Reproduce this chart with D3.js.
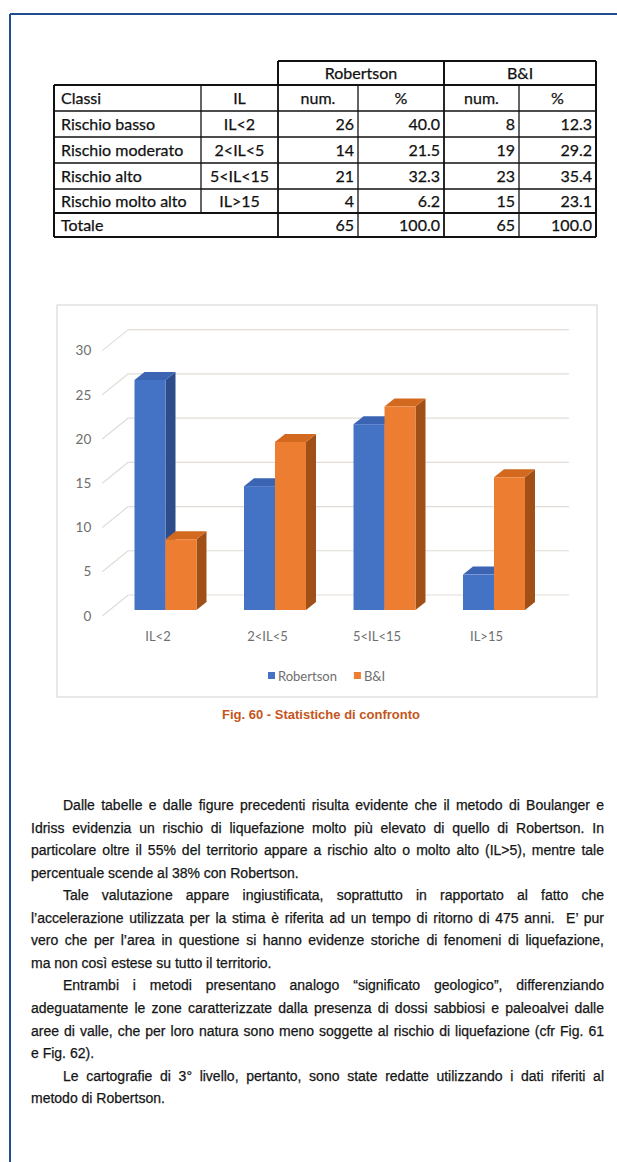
<!DOCTYPE html>
<html>
<head>
<meta charset="utf-8">
<script src="https://cdn.jsdelivr.net/npm/d3@7"></script>
<style>
  html, body { margin: 0; padding: 0; background: #fff; }
  svg { display: block; }
</style>
</head>
<body>
<svg id="page" width="617" height="1162"></svg>
<script>
// ---- data ----
const classes = ["Rischio basso", "Rischio moderato", "Rischio alto", "Rischio molto alto"];
const categories = ["IL<2", "2<IL<5", "5<IL<15", "IL>15"];
const series = ["Robertson", "B&I"];
const robertsonNum = [26, 14, 21, 4];
const robertsonPct = [40.0, 21.5, 32.3, 6.2];
const biNum = [8, 19, 23, 15];
const biPct = [12.3, 29.2, 35.4, 23.1];
const totalNum = [65, 65];
const totalPct = [100.0, 100.0];
const yTicks = [0, 5, 10, 15, 20, 25, 30];
const caption = "Fig. 60 - Statistiche di confronto";

const paragraphs = [
  ["Dalle tabelle e dalle figure precedenti risulta evidente che il metodo di Boulanger e",
   "Idriss evidenzia un rischio di liquefazione molto più elevato di quello di Robertson. In",
   "particolare oltre il 55% del territorio appare a rischio alto o molto alto (IL>5), mentre tale",
   "percentuale scende al 38% con Robertson."],
  ["Tale valutazione appare ingiustificata, soprattutto in rapportato al fatto che",
   "l’accelerazione utilizzata per la stima è riferita ad un tempo di ritorno di 475 anni.  E’ pur",
   "vero che per l’area in questione si hanno evidenze storiche di fenomeni di liquefazione,",
   "ma non così estese su tutto il territorio."],
  ["Entrambi i metodi presentano analogo “significato geologico”, differenziando",
   "adeguatamente le zone caratterizzate dalla presenza di dossi sabbiosi e paleoalvei dalle",
   "aree di valle, che per loro natura sono meno soggette al rischio di liquefazione (cfr Fig. 61",
   "e Fig. 62)."],
  ["Le cartografie di 3° livello, pertanto, sono state redatte utilizzando i dati riferiti al",
   "metodo di Robertson."]
];

const svg = d3.select("#page");

// ---- page frame ----
svg.append("line").attr("x1", 10).attr("y1", 14).attr("x2", 617).attr("y2", 14)
  .attr("stroke", "#1f4e8c").attr("stroke-width", 2);
svg.append("line").attr("x1", 10).attr("y1", 14).attr("x2", 10).attr("y2", 1162)
  .attr("stroke", "#1f4e8c").attr("stroke-width", 2);

// ---- table ----
const tableFont = "Lato, 'Open Sans', sans-serif";
const colX = [54, 201, 278, 358, 444, 519, 596];
const rowY = [61, 85, 111, 137, 163, 189, 213, 237];
const tbl = svg.append("g").attr("class", "table");
const ink = "#111";

function hline(x1, x2, y, w) {
  tbl.append("line").attr("x1", x1).attr("x2", x2).attr("y1", y).attr("y2", y)
    .attr("stroke", ink).attr("stroke-width", w);
}
function vline(x, y1, y2, w) {
  tbl.append("line").attr("x1", x).attr("x2", x).attr("y1", y1).attr("y2", y2)
    .attr("stroke", ink).attr("stroke-width", w);
}
// header band over the two methods
hline(colX[2], colX[6], rowY[0], 2);
vline(colX[2], rowY[0], rowY[1], 2);
vline(colX[4], rowY[0], rowY[1], 2);
vline(colX[6], rowY[0], rowY[1], 2);
// body grid
hline(colX[0], colX[6], rowY[1], 2);
for (let i = 2; i < rowY.length - 1; i++) hline(colX[0], colX[6], rowY[i], i === 6 ? 2.2 : 1.3);
hline(colX[0], colX[6], rowY[7], 2);
vline(colX[0], rowY[1], rowY[7], 2);
vline(colX[6], rowY[1], rowY[7], 2);
vline(colX[1], rowY[1], rowY[6], 1.3);
[2, 3, 4, 5].forEach(c => vline(colX[c], rowY[1], rowY[7], c === 2 || c === 4 ? 1.8 : 1.3));

function cellText(txt, x, rowTop, rowBot, anchor) {
  tbl.append("text").attr("x", x).attr("y", (rowTop + rowBot) / 2)
    .attr("dy", "0.36em").attr("text-anchor", anchor)
    .attr("font-family", tableFont).attr("font-size", 16).attr("fill", ink)
    .attr("stroke", ink).attr("stroke-width", 0.25)
    .text(txt);
}
const mid = (a, b) => (a + b) / 2;
cellText(series[0], mid(colX[2], colX[4]), rowY[0], rowY[1], "middle");
cellText(series[1], mid(colX[4], colX[6]), rowY[0], rowY[1], "middle");
cellText("Classi", colX[0] + 7, rowY[1], rowY[2], "start");
cellText("IL", mid(colX[1], colX[2]), rowY[1], rowY[2], "middle");
cellText("num.", mid(colX[2], colX[3]), rowY[1], rowY[2], "middle");
cellText("%", mid(colX[3], colX[4]), rowY[1], rowY[2], "middle");
cellText("num.", mid(colX[4], colX[5]), rowY[1], rowY[2], "middle");
cellText("%", mid(colX[5], colX[6]), rowY[1], rowY[2], "middle");
classes.forEach((c, i) => {
  const t = rowY[i + 2], b = rowY[i + 3];
  cellText(c, colX[0] + 7, t, b, "start");
  cellText(categories[i], mid(colX[1], colX[2]), t, b, "middle");
  cellText(robertsonNum[i], colX[3] - 4, t, b, "end");
  cellText(robertsonPct[i].toFixed(1), colX[4] - 4, t, b, "end");
  cellText(biNum[i], colX[5] - 4, t, b, "end");
  cellText(biPct[i].toFixed(1), colX[6] - 4, t, b, "end");
});
cellText("Totale", colX[0] + 7, rowY[6], rowY[7], "start");
cellText(totalNum[0], colX[3] - 4, rowY[6], rowY[7], "end");
cellText(totalPct[0].toFixed(1), colX[4] - 4, rowY[6], rowY[7], "end");
cellText(totalNum[1], colX[5] - 4, rowY[6], rowY[7], "end");
cellText(totalPct[1].toFixed(1), colX[6] - 4, rowY[6], rowY[7], "end");

// ---- 3D clustered column chart ----
const chart = svg.append("g").attr("class", "chart");
const chartFont = "Lato, 'Open Sans', sans-serif";
const box = { x: 57, y: 305, w: 540, h: 392 };
chart.append("rect").attr("x", box.x).attr("y", box.y).attr("width", box.w).attr("height", box.h)
  .attr("fill", "#fff").attr("stroke", "#d9d9d9").attr("stroke-width", 1.2);

// depth geometry: floor front edge -> bar front plane -> back wall
const floorFrontY = 616;
const depth = { dx: 26, dy: -21 };         // full floor depth
const barOffset = { dx: 7.5, dy: -6 };     // floor front to bar front face
const barDepth = { dx: 10, dy: -8 };       // bar thickness
const barBaseY = floorFrontY + barOffset.dy;

const y = d3.scaleLinear().domain([0, 30]).range([0, 265.4]);
const x0 = d3.scaleBand().domain(categories).range([110.75, 548.75])
  .paddingInner(0.434).paddingOuter(0.217);
const x1 = d3.scaleBand().domain(series).range([0, x0.bandwidth()]);

// walls: diagonal side lines + back gridlines
const floorLeftX = x0.range()[0] - barOffset.dx - 1;
const backLeftX = floorLeftX + depth.dx;
const backRightX = 569;
const gridColor = "#e2dcd7";
yTicks.forEach(v => {
  const yf = floorFrontY - y(v);
  const yb = yf + depth.dy;
  chart.append("line").attr("x1", floorLeftX).attr("y1", yf).attr("x2", backLeftX).attr("y2", yb)
    .attr("stroke", gridColor).attr("stroke-width", 1.2);
  chart.append("line").attr("x1", backLeftX).attr("y1", yb).attr("x2", backRightX).attr("y2", yb)
    .attr("stroke", gridColor).attr("stroke-width", 1.2);
  chart.append("text").attr("x", floorLeftX - 11).attr("y", yf).attr("dy", "0.35em")
    .attr("text-anchor", "end").attr("font-family", chartFont).attr("font-size", 13.5)
    .attr("fill", "#6e6e6e").text(v);
});

const palette = {
  "Robertson": { front: "#4472c4", top: "#3b65b3", side: "#2c4c8b" },
  "B&I": { front: "#ed7d31", top: "#d2691f", side: "#a04f17" }
};
const values = { "Robertson": robertsonNum, "B&I": biNum };

categories.forEach((cat, ci) => {
  series.forEach(s => {
    const v = values[s][ci];
    const left = x0(cat) + x1(s);
    const w = x1.bandwidth();
    const h = y(v);
    const top = barBaseY - h;
    const c = palette[s];
    const g = chart.append("g");
    g.append("polygon").attr("fill", c.side).attr("points", [
      [left + w, top], [left + w + barDepth.dx, top + barDepth.dy],
      [left + w + barDepth.dx, barBaseY + barDepth.dy], [left + w, barBaseY]
    ].map(p => p.join(",")).join(" "));
    g.append("polygon").attr("fill", c.top).attr("points", [
      [left, top], [left + barDepth.dx, top + barDepth.dy],
      [left + w + barDepth.dx, top + barDepth.dy], [left + w, top]
    ].map(p => p.join(",")).join(" "));
    g.append("rect").attr("x", left).attr("y", top).attr("width", w).attr("height", h)
      .attr("fill", c.front);
  });
  chart.append("text").attr("x", x0(cat) + x0.bandwidth() / 2 - barOffset.dx)
    .attr("y", 636).attr("dy", "0.35em").attr("text-anchor", "middle")
    .attr("font-family", chartFont).attr("font-size", 13).attr("fill", "#6e6e6e").text(cat);
});

// legend
const legend = chart.append("g");
let lx = 268;
series.forEach(s => {
  legend.append("rect").attr("x", lx).attr("y", 672).attr("width", 7).attr("height", 7)
    .attr("fill", palette[s].front);
  const t = legend.append("text").attr("x", lx + 10).attr("y", 676).attr("dy", "0.35em")
    .attr("font-family", chartFont).attr("font-size", 13).attr("fill", "#6e6e6e").text(s);
  lx += 10 + t.node().getComputedTextLength() + 17;
});

// caption
svg.append("text").attr("x", 321).attr("y", 714).attr("dy", "0.35em").attr("text-anchor", "middle")
  .attr("font-family", "'Liberation Sans', Arial, sans-serif").attr("font-weight", "bold")
  .attr("font-size", 13).attr("fill", "#c4561c").text(caption);

// ---- body text, justified ----
const body = svg.append("g").attr("font-family", "'Liberation Sans', Arial, sans-serif")
  .attr("font-size", 14).attr("fill", "#151515")
  .attr("stroke", "#151515").attr("stroke-width", 0.25);
const textLeft = 31, textRight = 604, indent = 32, lineGap = 22.55;
let baseline = 810;
paragraphs.forEach(lines => {
  lines.forEach((ln, li) => {
    const xStart = textLeft + (li === 0 ? indent : 0);
    const t = body.append("text").attr("x", xStart).attr("y", baseline)
      .attr("xml:space", "preserve").style("white-space", "pre").text(ln);
    if (li < lines.length - 1) {
      const natural = t.node().getComputedTextLength();
      const gaps = (ln.match(/ /g) || []).length;
      if (gaps > 0) t.attr("word-spacing", (textRight - xStart - natural) / gaps);
    }
    baseline += lineGap;
  });
});
</script>
</body>
</html>
